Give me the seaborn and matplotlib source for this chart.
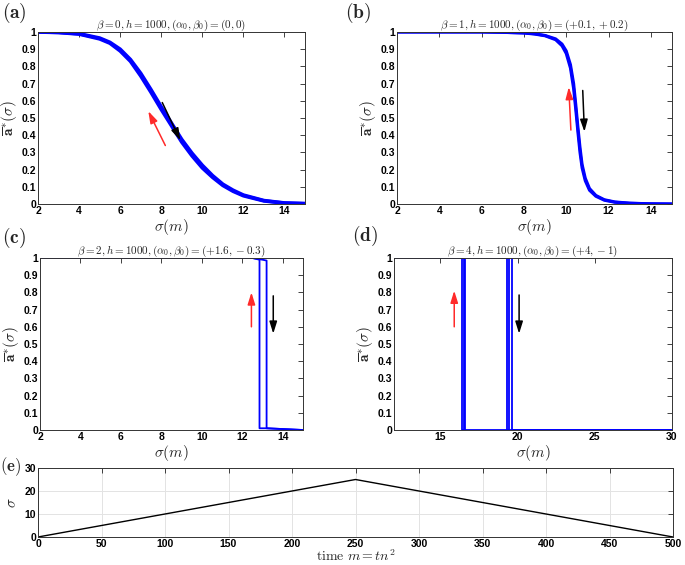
import numpy as np
import pandas as pd
import matplotlib
matplotlib.use("Agg")
import matplotlib.pyplot as plt
import seaborn as sns

# ---------------- data ----------------
# panel (a): forward and backward sweeps (nearly coincident, noisy band)
sig_a = [2, 3, 4, 5, 5.5, 6, 6.5, 7, 7.5, 8, 8.5, 9, 9.5, 10, 10.5, 11, 11.5, 12, 13, 14, 15]
a_fwd = [1.0, 0.998, 0.99, 0.965, 0.94, 0.90, 0.84, 0.76, 0.665, 0.565, 0.47, 0.375, 0.295, 0.225, 0.165, 0.115, 0.08, 0.052, 0.02, 0.006, 0.002]
a_bwd = [1.0, 0.997, 0.988, 0.96, 0.935, 0.89, 0.83, 0.745, 0.65, 0.55, 0.455, 0.36, 0.28, 0.21, 0.155, 0.108, 0.074, 0.048, 0.018, 0.005, 0.002]

# panel (b)
sig_b = [2, 4, 6, 7, 8, 8.5, 9, 9.5, 9.8, 10, 10.2, 10.35, 10.45, 10.55, 10.65, 10.75, 10.9, 11.1, 11.4, 11.8, 12.3, 13, 14, 15]
b_fwd = [1.0, 1.0, 1.0, 0.998, 0.995, 0.99, 0.98, 0.96, 0.93, 0.89, 0.81, 0.70, 0.58, 0.45, 0.33, 0.23, 0.15, 0.09, 0.05, 0.025, 0.012, 0.005, 0.001, 0.0]
b_bwd = [1.0, 1.0, 1.0, 0.998, 0.994, 0.988, 0.978, 0.955, 0.92, 0.875, 0.79, 0.67, 0.55, 0.42, 0.30, 0.21, 0.135, 0.08, 0.045, 0.022, 0.01, 0.004, 0.001, 0.0]

# panel (c): sharp jumps
sig_c_fwd = [2, 12.5, 13.0, 13.2, 13.2, 15]
c_fwd = [1.0, 1.0, 0.99, 0.985, 0.01, 0.0]
sig_c_bwd = [15, 13.2, 12.85, 12.85, 12.5, 2]
c_bwd = [0.0, 0.01, 0.01, 0.99, 1.0, 1.0]

# panel (d): jumps with a few flips
sig_d_fwd = [12, 19.3, 19.3, 19.45, 19.45, 19.62, 19.62, 30]
d_fwd = [1, 1, 0, 0, 1, 1, 0, 0]
sig_d_bwd = [30, 16.62, 16.62, 16.52, 16.52, 16.42, 16.42, 12]
d_bwd = [0, 0, 1, 1, 0, 0, 1, 1]

# panel (e): protocol sigma(m)
time_e = [0, 250, 500]
sigma_e = [0, 25, 0]

titles = [r"$\beta=0, h=1000, (\alpha_0,\beta_0)=(0,0)$",
          r"$\beta=1, h=1000, (\alpha_0,\beta_0)=(+0.1,+0.2)$",
          r"$\beta=2, h=1000, (\alpha_0,\beta_0)=(+1.6,-0.3)$",
          r"$\beta=4, h=1000, (\alpha_0,\beta_0)=(+4,-1)$"]
panel_tags = ["a", "b", "c", "d", "e"]

# ---------------- style ----------------
sns.set_theme(style="white")
plt.rcParams["font.family"] = ["Liberation Sans", "DejaVu Sans"]
plt.rcParams["mathtext.fontset"] = "cm"
plt.rcParams["font.weight"] = "bold"

fig = plt.figure(figsize=(6.85, 5.65), dpi=100)
W, H = 685.0, 565.0

def box(l, r, t, b):
    return [l / W, (H - b) / H, (r - l) / W, (b - t) / H]

ax_a = fig.add_axes(box(38, 305, 32, 204))
ax_b = fig.add_axes(box(397, 672, 32, 204))
ax_c = fig.add_axes(box(40, 303, 258, 430))
ax_d = fig.add_axes(box(394, 672, 258, 430))
ax_e = fig.add_axes(box(38, 673, 468, 537))

BLUE = "#0000ff"

def style(ax):
    for s in ax.spines.values():
        s.set_color("#333333")
        s.set_linewidth(0.7)
    ax.tick_params(direction="in", top=True, right=True, length=3.5, width=0.6,
                   labelsize=7.5, pad=1.5, colors="#222222")
    for lab in ax.get_xticklabels() + ax.get_yticklabels():
        lab.set_fontweight("bold")
        lab.set_color("black")

def draw(ax, xs_f, ys_f, xs_b, ys_b, lw):
    df_f = pd.DataFrame({"s": xs_f, "a": ys_f})
    df_b = pd.DataFrame({"s": xs_b, "a": ys_b})
    sns.lineplot(data=df_f, x="s", y="a", sort=False, estimator=None, color=BLUE, lw=lw, ax=ax)
    sns.lineplot(data=df_b, x="s", y="a", sort=False, estimator=None, color=BLUE, lw=lw, ax=ax)

draw(ax_a, sig_a, a_fwd, sig_a, a_bwd, 2.6)
draw(ax_b, sig_b, b_fwd, sig_b, b_bwd, 2.2)
draw(ax_c, sig_c_fwd, c_fwd, sig_c_bwd, c_bwd, 1.3)
draw(ax_d, sig_d_fwd, d_fwd, sig_d_bwd, d_bwd, 1.3)

yt = np.round(np.arange(0, 1.01, 0.1), 1)
ylabs = ["0"] + [f"{v:.1f}" for v in yt[1:-1]] + ["1"]
for ax, xl, xt, ttl in [(ax_a, (2, 15), range(2, 15, 2), titles[0]),
                        (ax_b, (2, 15), range(2, 15, 2), titles[1]),
                        (ax_c, (2, 15), range(2, 15, 2), titles[2]),
                        (ax_d, (12, 30), [15, 20, 25, 30], titles[3])]:
    ax.set_xlim(*xl)
    ax.set_ylim(0, 1)
    ax.set_xticks(list(xt))
    ax.set_xticklabels([str(v) for v in xt])
    ax.set_yticks(yt)
    ax.set_yticklabels(ylabs)
    ax.set_title(ttl, fontsize=8, pad=3)
    ax.set_xlabel(r"$\sigma(m)$", fontsize=11, labelpad=1)
    ax.set_ylabel(r"$\overline{\mathbf{a}}^{*}(\sigma)$", fontsize=11, labelpad=2)
    style(ax)

# arrows
def arrow(ax, x0, y0, x1, y1, color):
    ax.annotate("", xy=(x1, y1), xytext=(x0, y0),
                arrowprops=dict(arrowstyle="-|>,head_length=0.8,head_width=0.25", color=color, lw=1.1,
                                mutation_scale=9, shrinkA=0, shrinkB=0))

RED = "#ff2a2a"
arrow(ax_a, 8.2, 0.34, 7.37, 0.54, RED)
arrow(ax_a, 8.05, 0.59, 8.93, 0.37, "black")
arrow(ax_b, 10.22, 0.43, 10.12, 0.68, RED)
arrow(ax_b, 10.78, 0.66, 10.86, 0.42, "black")
arrow(ax_c, 12.45, 0.60, 12.45, 0.80, RED)
arrow(ax_c, 13.53, 0.78, 13.53, 0.56, "black")
arrow(ax_d, 15.9, 0.60, 15.9, 0.81, RED)
arrow(ax_d, 20.1, 0.785, 20.1, 0.56, "black")

# panel (e)
df_e = pd.DataFrame({"m": time_e, "s": sigma_e})
sns.lineplot(data=df_e, x="m", y="s", sort=False, estimator=None, color="black", lw=1.0, ax=ax_e)
ax_e.set_xlim(0, 500)
ax_e.set_ylim(0, 30)
ax_e.set_xticks(range(0, 501, 50))
ax_e.set_xticklabels([str(v) for v in range(0, 501, 50)])
ax_e.set_yticks([0, 10, 20, 30])
ax_e.set_yticklabels(["0", "10", "20", "30"])
ax_e.grid(True, color="#e3e3e3", lw=0.7)
ax_e.set_axisbelow(True)
ax_e.set_xlabel(r"$\mathrm{time}\ m=tn^2$", fontsize=10, labelpad=-0.5)
ax_e.set_ylabel(r"$\sigma$", fontsize=11, labelpad=4)
style(ax_e)

# panel tags
tag_pos = [(2, 13, 14), (345, 13, 14), (2, 238, 14), (352, 236, 14), (0, 467, 12)]
for tag, (px, py, fs) in zip(panel_tags, tag_pos):
    fig.text(px / W, 1 - py / H, r"$\mathbf{(" + tag + r")}$", fontsize=fs,
             va="center", ha="left")

fig.savefig("out.png", dpi=100)
